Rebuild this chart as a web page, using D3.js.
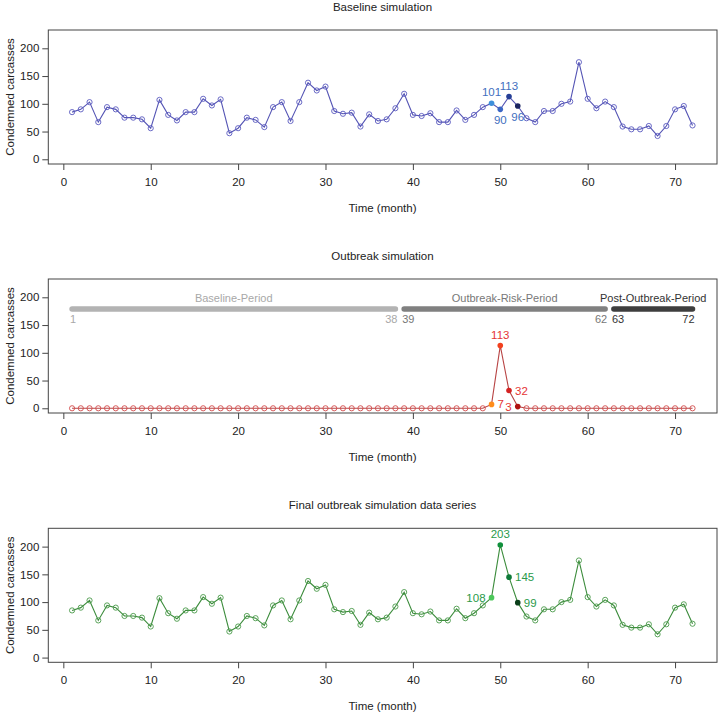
<!DOCTYPE html>
<html><head><meta charset="utf-8">
<script src="https://cdn.jsdelivr.net/npm/d3@7"></script>
<style>body{margin:0;background:#fff}svg{display:block;font-family:"Liberation Sans",Arial,sans-serif}</style>
</head><body><svg id="c" width="720" height="713"></svg>
<script>
const months = d3.range(1, 73);
const baseline = [85,90,103,67,94,90,75,75,72,56,107,80,70,85,85,109,97,108,47,56,75,71,58,94,103,69,103,138,124,131,87,82,84,59,81,69,72,92,118,80,78,83,67,67,88,71,80,94,101,90,113,96,74,67,87,87,100,104,175,109,92,104,94,59,54,54,60,42,60,90,96,61];
const outbreak = [0,0,0,0,0,0,0,0,0,0,0,0,0,0,0,0,0,0,0,0,0,0,0,0,0,0,0,0,0,0,0,0,0,0,0,0,0,0,0,0,0,0,0,0,0,0,0,0,7,113,32,3,0,0,0,0,0,0,0,0,0,0,0,0,0,0,0,0,0,0,0,0];
const finalSeries = [85,90,103,67,94,90,75,75,72,56,107,80,70,85,85,109,97,108,47,56,75,71,58,94,103,69,103,138,124,131,87,82,84,59,81,69,72,92,118,80,78,83,67,67,88,71,80,94,108,203,145,99,74,67,87,87,100,104,175,109,92,104,94,59,54,54,60,42,60,90,96,61];
const highlightMonths = [49, 50, 51, 52];
const xTicks = [0,10,20,30,40,50,60,70];
const yTicks = [0,50,100,150,200];
const titles = ["Baseline simulation", "Outbreak simulation", "Final outbreak simulation data series"];
const periodNames = ["Baseline-Period", "Outbreak-Risk-Period", "Post-Outbreak-Period"];
const periodStart = [1, 39, 63];
const periodEnd = [38, 62, 72];
const periodY = 179;

const svg = d3.select("#c");
const x = d3.scaleLinear().domain([-1.72, 74.8]).range([48.3, 717]);
const H = 134;

const panels = [
  {top: 30, data: baseline, line: "#5454b4", pt: "#5a5abf",
   hl: ["#3d8fdb", "#3b66c4", "#263f96", "#1b2560"], lab: "#3f6fc0",
   pos: ["above", "below", "above", "below"]},
  {top: 279, data: outbreak, line: "#b84545", pt: "#d24a4a",
   hl: ["#ff8c1a", "#f2401e", "#d42222", "#b01010"], lab: "#e53535",
   pos: ["right", "above", "right", "left"]},
  {top: 528.3, data: finalSeries, line: "#3c8c3c", pt: "#4a9a4a",
   hl: ["#4cc85a", "#10903c", "#0e7a38", "#0a3f1a"], lab: "#2a9a4a",
   pos: ["left", "above", "right", "right"]}
];

panels.forEach((p, i) => {
  const y = d3.scaleLinear().domain([-8.5, 233]).range([p.top + H, p.top]);
  const g = svg.append("g");
  // box
  g.append("rect").attr("x", x.range()[0]).attr("y", p.top)
    .attr("width", x.range()[1] - x.range()[0]).attr("height", H)
    .attr("fill", "none").attr("stroke", "#444").attr("stroke-width", 1);
  // title
  g.append("text").attr("x", 382.5).attr("y", p.top - 19).attr("text-anchor", "middle")
    .attr("font-size", 11.5).attr("fill", "#222").text(titles[i]);
  // x axis
  const xa = g.append("g").attr("transform", `translate(0,${p.top + H})`)
    .call(d3.axisBottom(x).tickValues(xTicks).tickSize(6).tickPadding(8).tickFormat(d3.format("d")));
  xa.select(".domain").remove();
  xa.selectAll("line").attr("stroke", "#444");
  xa.selectAll("text").attr("font-size", 11.5).attr("fill", "#222").attr("font-family", "Liberation Sans, Arial, sans-serif");
  // y axis
  const ya = g.append("g").attr("transform", `translate(${x.range()[0]},0)`)
    .call(d3.axisLeft(y).tickValues(yTicks).tickSize(6).tickPadding(3));
  ya.select(".domain").remove();
  ya.selectAll("line").attr("stroke", "#444");
  ya.selectAll("text").attr("font-size", 11.5).attr("fill", "#222").attr("font-family", "Liberation Sans, Arial, sans-serif");
  // axis titles
  g.append("text").attr("x", 382.5).attr("y", p.top + H + 48).attr("text-anchor", "middle")
    .attr("font-size", 11.5).attr("fill", "#222").text("Time (month)");
  g.append("text").attr("transform", `translate(14,${p.top + H / 2}) rotate(-90)`)
    .attr("text-anchor", "middle").attr("font-size", 11.5).attr("fill", "#222").text("Condemned carcasses");

  // period bars (middle)
  if (i === 1) {
    const pc = ["#b3b3b3", "#808080", "#3e3e3e"];
    const tc = ["#a8a8a8", "#777777", "#333333"];
    periodNames.forEach((nm, k) => {
      g.append("line").attr("x1", x(periodStart[k])).attr("x2", x(periodEnd[k]))
        .attr("y1", y(periodY)).attr("y2", y(periodY))
        .attr("stroke", pc[k]).attr("stroke-width", 5.5).attr("stroke-linecap", "round");
      g.append("text").attr("x", (x(periodStart[k]) + x(periodEnd[k])) / 2).attr("y", y(periodY) - 7)
        .attr("text-anchor", "middle").attr("font-size", 11).attr("fill", tc[k]).text(nm);
      g.append("text").attr("x", x(periodStart[k]) - 2).attr("y", y(periodY) + 14)
        .attr("text-anchor", "start").attr("font-size", 11).attr("fill", tc[k]).text(periodStart[k]);
      g.append("text").attr("x", x(periodEnd[k]) + 2).attr("y", y(periodY) + 14)
        .attr("text-anchor", "end").attr("font-size", 11).attr("fill", tc[k]).text(periodEnd[k]);
    });
  }

  // line
  const lineGen = d3.line().x((d, j) => x(months[j])).y(d => y(d));
  g.append("path").datum(p.data).attr("d", lineGen).attr("fill", "none")
    .attr("stroke", p.line).attr("stroke-width", 1.1);
  // open points
  g.selectAll("circle.o").data(months.filter(m => !highlightMonths.includes(m))).enter()
    .append("circle").attr("cx", m => x(m)).attr("cy", m => y(p.data[m - 1]))
    .attr("r", 2.6).attr("fill", "none").attr("stroke", p.pt).attr("stroke-width", 0.9);
  // highlighted points + labels
  highlightMonths.forEach((m, k) => {
    const cx = x(m), cy = y(p.data[m - 1]);
    g.append("circle").attr("cx", cx).attr("cy", cy).attr("r", 2.8).attr("fill", p.hl[k]);
    const t = g.append("text").attr("font-size", 11.5).attr("fill", p.lab).text(p.data[m - 1]);
    const ps = p.pos[k];
    if (ps === "above") t.attr("x", cx).attr("y", cy - 7).attr("text-anchor", "middle");
    else if (ps === "below") t.attr("x", cx).attr("y", cy + 15).attr("text-anchor", "middle");
    else if (ps === "right") t.attr("x", cx + 6).attr("y", cy + 4).attr("text-anchor", "start");
    else t.attr("x", cx - 6).attr("y", cy + 4).attr("text-anchor", "end");
  });
});
</script></body></html>
